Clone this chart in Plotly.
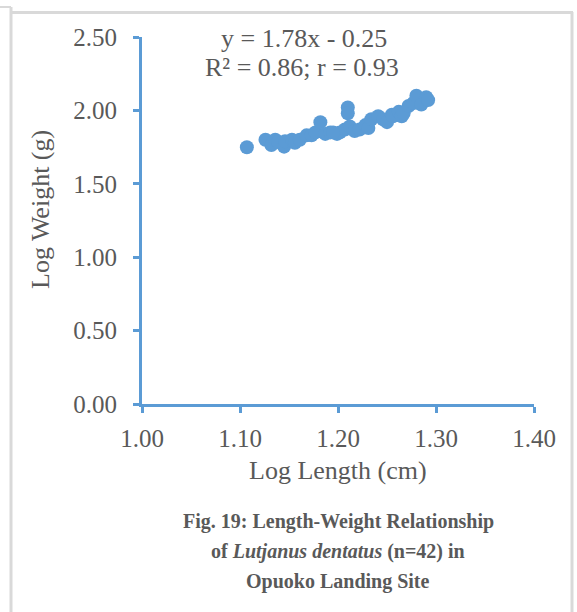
import plotly.graph_objects as go

# Data (log length, log weight)
log_length = [1.107, 1.126, 1.132, 1.136, 1.139, 1.145, 1.146, 1.153, 1.156, 1.161,
              1.168, 1.173, 1.177, 1.182, 1.187, 1.192, 1.199, 1.202, 1.207, 1.210,
              1.210, 1.212, 1.217, 1.222, 1.228, 1.231, 1.234, 1.241, 1.246, 1.250,
              1.255, 1.256, 1.262, 1.265, 1.267, 1.272, 1.277, 1.280, 1.285, 1.290,
              1.292, 1.195]
log_weight = [1.749, 1.80, 1.764, 1.80, 1.785, 1.753, 1.79, 1.80, 1.78, 1.80,
              1.83, 1.83, 1.85, 1.92, 1.84, 1.85, 1.84, 1.85, 1.87, 2.02,
              1.98, 1.89, 1.86, 1.87, 1.90, 1.88, 1.94, 1.96, 1.94, 1.92,
              1.97, 1.96, 1.99, 1.96, 1.98, 2.03, 2.05, 2.10, 2.04, 2.09,
              2.07, 1.85]

x_ticks = [1.0, 1.1, 1.2, 1.3, 1.4]
x_tick_labels = ["1.00", "1.10", "1.20", "1.30", "1.40"]
y_ticks = [0.0, 0.5, 1.0, 1.5, 2.0, 2.5]
y_tick_labels = ["0.00", "0.50", "1.00", "1.50", "2.00", "2.50"]

equation = "y = 1.78x - 0.25"
r_text = "R² = 0.86; r = 0.93"
x_title = "Log Length (cm)"
y_title = "Log Weight (g)"
caption = ["<b>Fig. 19: Length-Weight Relationship</b>",
           "<b>of <i>Lutjanus dentatus</i> (n=42) in</b>",
           "<b>Opuoko Landing Site</b>"]

W, H = 577, 612
L, R, T, B = 142, 43, 37, 208
PW, PH = W - L - R, H - T - B

def px(x):
    return (x - L) / PW

def py(y):
    return (H - B - y) / PH

BLUE = "#5b9bd5"
GREY = "#595959"
FONT = "Liberation Serif"

fig = go.Figure()
fig.add_trace(go.Scatter(
    x=log_length, y=log_weight, mode="markers",
    marker=dict(size=14, color=BLUE, line=dict(width=0)),
    cliponaxis=False, showlegend=False, hoverinfo="x+y"))

axis_common = dict(
    showline=True, linecolor=BLUE, linewidth=3, showgrid=False, zeroline=False,
    ticks="outside", ticklen=6, tickwidth=3, tickcolor=BLUE,
    tickfont=dict(family=FONT, size=25, color=GREY),
)
fig.update_xaxes(range=[1.0, 1.4], tickvals=x_ticks, ticktext=x_tick_labels,
                 ticklabelstandoff=4, **axis_common)
fig.update_yaxes(range=[0.0, 2.5], tickvals=y_ticks, ticktext=y_tick_labels,
                 ticklabelstandoff=11, **axis_common)

ann = []
def add_text(text, x, y, size, angle=0):
    ann.append(dict(text=text, x=px(x), y=py(y), xref="paper", yref="paper",
                    xanchor="center", yanchor="middle", showarrow=False,
                    textangle=angle, font=dict(family=FONT, size=size, color=GREY)))

add_text(equation, 304, 38, 26)
add_text(r_text, 302, 67, 26)
add_text(x_title, 338, 471, 26)
add_text(y_title, 40, 210, 26, angle=-90)
for i, line in enumerate(caption):
    add_text(line, 338, 521 + 30 * i, 20)

frame = "#d9d9d9"
shapes = [
    dict(type="line", xref="paper", yref="paper", x0=px(11), x1=px(11), y0=py(7), y1=py(612),
         line=dict(color=frame, width=3)),
    dict(type="line", xref="paper", yref="paper", x0=px(0), x1=px(11), y0=py(7), y1=py(7),
         line=dict(color=frame, width=2)),
    dict(type="line", xref="paper", yref="paper", x0=px(11), x1=px(573), y0=py(12.5), y1=py(12.5),
         line=dict(color=frame, width=3)),
    dict(type="line", xref="paper", yref="paper", x0=px(572), x1=px(572), y0=py(12), y1=py(612),
         line=dict(color=frame, width=3)),
]

fig.update_layout(
    width=W, height=H, margin=dict(l=L, r=R, t=T, b=B),
    paper_bgcolor="white", plot_bgcolor="white",
    annotations=ann, shapes=shapes, showlegend=False,
)

fig.write_html("out.html")
